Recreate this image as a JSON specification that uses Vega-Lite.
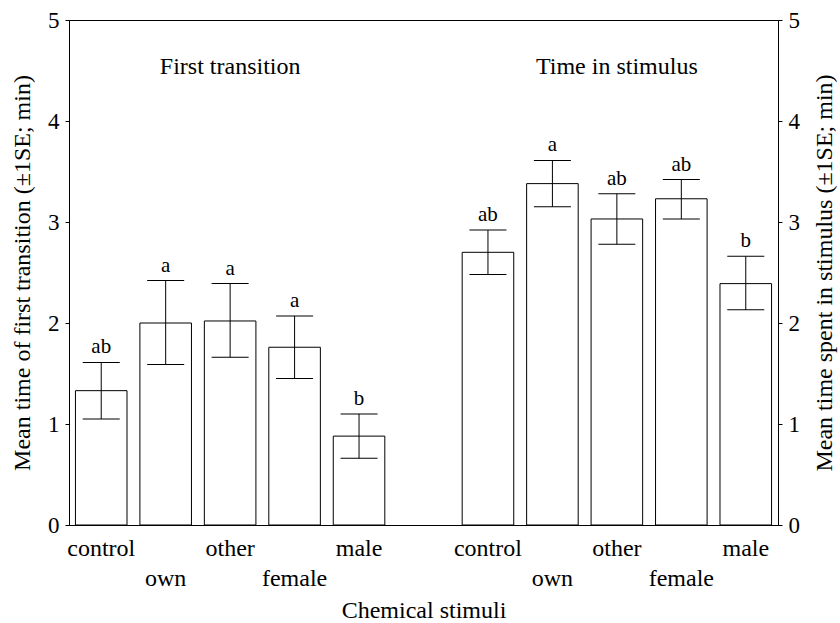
{
  "$schema": "https://vega.github.io/schema/vega-lite/v6.json",
  "width": 709,
  "height": 505,
  "autosize": "none",
  "padding": {"left": 69, "top": 20, "right": 62, "bottom": 98},
  "background": "white",
  "config": {
    "font": "Liberation Serif",
    "view": {"stroke": "#000", "strokeWidth": 1},
    "text": {"font": "Liberation Serif"},
    "axis": {"grid": false, "domainColor": "#000", "tickColor": "#000", "labelColor": "#000", "titleColor": "#000", "labelFont": "Liberation Serif", "titleFont": "Liberation Serif", "titleFontWeight": "normal"}
  },
  "data": {"values": [
    {"key": "FT-control", "mean": 1.33, "lo": 1.05, "hi": 1.61, "letter": "ab"},
    {"key": "FT-own", "mean": 2.00, "lo": 1.59, "hi": 2.42, "letter": "a"},
    {"key": "FT-other", "mean": 2.02, "lo": 1.66, "hi": 2.39, "letter": "a"},
    {"key": "FT-female", "mean": 1.76, "lo": 1.45, "hi": 2.07, "letter": "a"},
    {"key": "FT-male", "mean": 0.88, "lo": 0.66, "hi": 1.10, "letter": "b"},
    {"key": "TS-control", "mean": 2.70, "lo": 2.48, "hi": 2.92, "letter": "ab"},
    {"key": "TS-own", "mean": 3.38, "lo": 3.15, "hi": 3.61, "letter": "a"},
    {"key": "TS-other", "mean": 3.03, "lo": 2.78, "hi": 3.28, "letter": "ab"},
    {"key": "TS-female", "mean": 3.23, "lo": 3.03, "hi": 3.42, "letter": "ab"},
    {"key": "TS-male", "mean": 2.39, "lo": 2.13, "hi": 2.66, "letter": "b"}
  ]},
  "encoding": {
    "x": {
      "field": "key", "type": "nominal", "title": "Chemical stimuli",
      "scale": {"domain": ["FT-control", "FT-own", "FT-other", "FT-female", "FT-male", "gap", "TS-control", "TS-own", "TS-other", "TS-female", "TS-male"], "paddingInner": 0.2, "paddingOuter": 0.1},
      "axis": {
        "labelAngle": 0, "ticks": false, "domain": true, "labelFontSize": 24,
        "labelFont": "Liberation Serif", "titleFont": "Liberation Serif",
        "labelExpr": "datum.value == 'gap' ? '' : split(datum.value, '-')[1]",
        "labelPadding": {"condition": {"test": "indexof(['FT-own','FT-female','TS-own','TS-female'], datum.value) >= 0", "value": 41}, "value": 11},
        "titleFontSize": 24, "titlePadding": 8
      }
    }
  },
  "resolve": {"axis": {"y": "independent"}},
  "layer": [
    {
      "mark": {"type": "bar", "fill": "white", "stroke": "#000", "strokeWidth": 1},
      "encoding": {
        "y": {"field": "mean", "type": "quantitative", "scale": {"domain": [0, 5]},
          "axis": {"orient": "left", "values": [0, 1, 2, 3, 4, 5], "tickSize": 4, "labelPadding": 6, "labelFontSize": 23, "labelFont": "Liberation Serif", "titleFont": "Liberation Serif", "title": "Mean time of first transition (±1SE; min)", "titleFontSize": 24, "titlePadding": 13}}
      }
    },
    {
      "mark": {"type": "rule", "color": "#000", "strokeWidth": 1},
      "encoding": {
        "y": {"field": "lo", "type": "quantitative", "axis": null},
        "y2": {"field": "hi"}
      }
    },
    {
      "mark": {"type": "tick", "color": "#000", "size": 37, "thickness": 1, "opacity": 1},
      "encoding": {"y": {"field": "lo", "type": "quantitative", "axis": null}}
    },
    {
      "mark": {"type": "tick", "color": "#000", "size": 37, "thickness": 1, "opacity": 1},
      "encoding": {"y": {"field": "hi", "type": "quantitative", "axis": null}}
    },
    {
      "mark": {"type": "text", "font": "Liberation Serif", "fontSize": 21, "baseline": "alphabetic", "dy": -9, "color": "#000"},
      "encoding": {
        "y": {"field": "hi", "type": "quantitative", "axis": null},
        "text": {"field": "letter"}
      }
    },
    {
      "data": {"values": [
        {"key": "FT-other", "pos": 4.47, "label": "First transition"},
        {"key": "TS-other", "pos": 4.47, "label": "Time in stimulus"}
      ]},
      "mark": {"type": "text", "font": "Liberation Serif", "fontSize": 24, "baseline": "alphabetic", "color": "#000"},
      "encoding": {
        "y": {"field": "pos", "type": "quantitative",
          "axis": {"orient": "right", "values": [0, 1, 2, 3, 4, 5], "tickSize": 4, "labelPadding": 6, "labelFontSize": 23, "labelFont": "Liberation Serif", "titleFont": "Liberation Serif", "title": "Mean time spent in stimulus (±1SE; min)", "titleFontSize": 24, "titleAngle": 270, "titleBaseline": "top", "titlePadding": 13}},
        "text": {"field": "label"}
      }
    }
  ]
}
